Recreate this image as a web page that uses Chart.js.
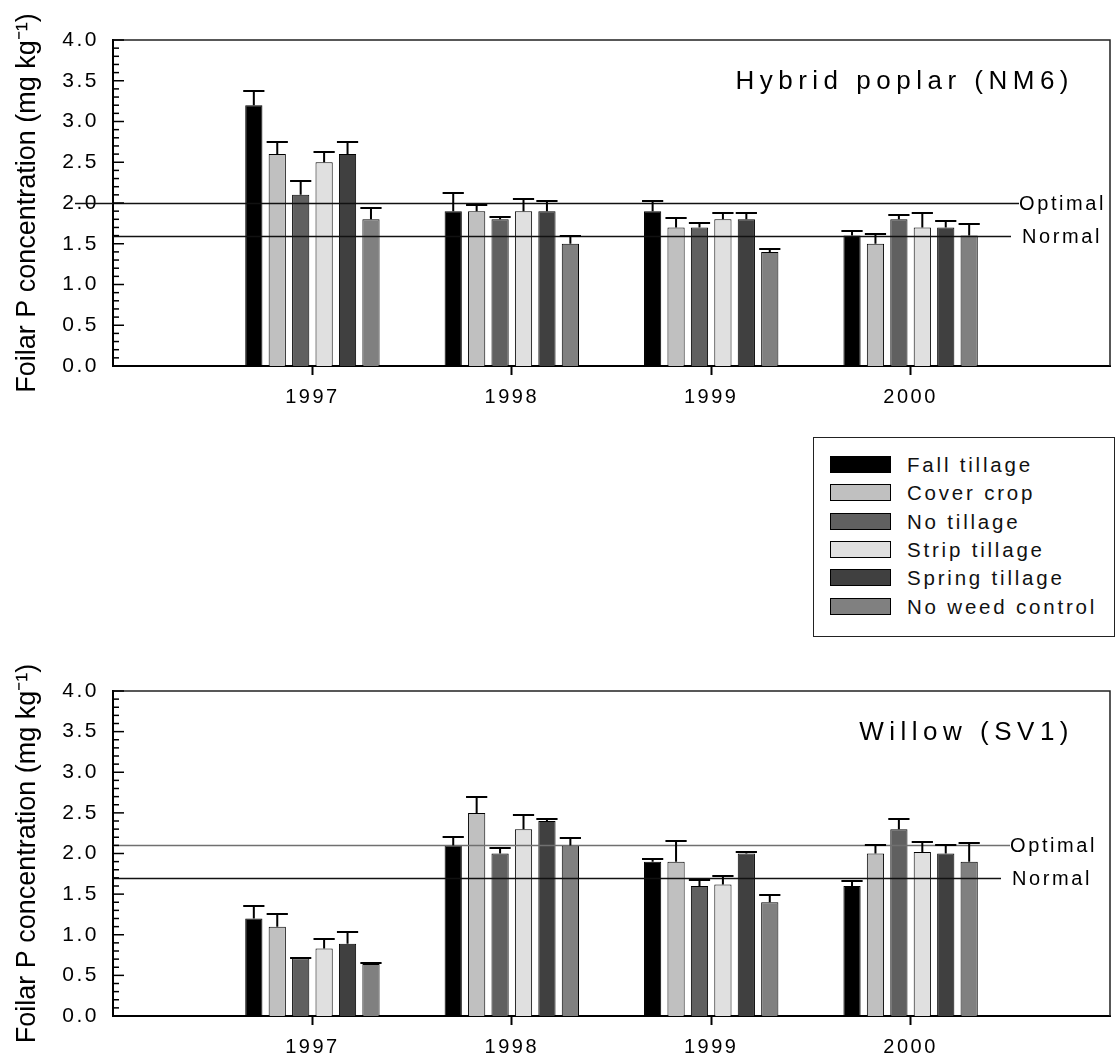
<!DOCTYPE html>
<html>
<head>
<meta charset="utf-8">
<title>Foliar P concentration</title>
<script src="https://cdn.jsdelivr.net/npm/chart.js@4.4.1/dist/chart.umd.min.js"></script>
<style>
  html, body { margin: 0; padding: 0; background: #fff; }
  #page { position: relative; width: 1120px; height: 1063px; overflow: hidden; }
  .panel { position: absolute; left: 0; }
  #legend {
    position: absolute; left: 813px; top: 437px; width: 300px; height: 198px;
    border: 1.5px solid #222; background: #fff;
    font-family: "Liberation Sans", Arial, sans-serif; font-size: 20.5px;
    letter-spacing: 2.8px; color: #111;
  }
  .item { position: absolute; left: 16px; height: 17px; display: flex; align-items: center; white-space: nowrap; }
  .sw { display: inline-block; width: 59px; height: 15px; border: 1px solid #000; margin-right: 16px; }
  .item span.txt { line-height: 17px; }
</style>
</head>
<body>
<div id="page">
  <canvas id="poplar" class="panel" style="top:0" width="1120" height="430"></canvas>
  <div id="legend"></div>
  <canvas id="willow" class="panel" style="top:650px" width="1120" height="413"></canvas>
</div>
<script>
// ---- data ----
const years = ['1997', '1998', '1999', '2000'];
const seriesNames = ['Fall tillage', 'Cover crop', 'No tillage', 'Strip tillage', 'Spring tillage', 'No weed control'];
const seriesColors = ['#000000', '#c0c0c0', '#606060', '#e0e0e0', '#404040', '#808080'];

// Hybrid poplar (NM6): means and standard errors per year
const poplarFall     = [3.2, 1.9, 1.9, 1.6];
const poplarCover    = [2.6, 1.9, 1.7, 1.5];
const poplarNoTill   = [2.1, 1.8, 1.7, 1.8];
const poplarStrip    = [2.5, 1.9, 1.8, 1.7];
const poplarSpring   = [2.6, 1.9, 1.8, 1.7];
const poplarNoWeed   = [1.8, 1.5, 1.4, 1.6];
const poplarFallSE   = [0.18, 0.22, 0.13, 0.06];
const poplarCoverSE  = [0.15, 0.08, 0.11, 0.12];
const poplarNoTillSE = [0.17, 0.03, 0.06, 0.05];
const poplarStripSE  = [0.12, 0.15, 0.08, 0.18];
const poplarSpringSE = [0.15, 0.12, 0.08, 0.08];
const poplarNoWeedSE = [0.14, 0.09, 0.04, 0.14];
const poplarOptimal = 2.0;
const poplarNormal  = 1.6;

// Willow (SV1): means and standard errors per year
const willowFall     = [1.2, 2.1, 1.9, 1.6];
const willowCover    = [1.1, 2.5, 1.9, 2.0];
const willowNoTill   = [0.71, 2.0, 1.6, 2.3];
const willowStrip    = [0.83, 2.3, 1.62, 2.02];
const willowSpring   = [0.89, 2.4, 2.0, 2.0];
const willowNoWeed   = [0.64, 2.1, 1.4, 1.9];
const willowFallSE   = [0.16, 0.10, 0.03, 0.06];
const willowCoverSE  = [0.15, 0.19, 0.26, 0.10];
const willowNoTillSE = [0.01, 0.07, 0.08, 0.12];
const willowStripSE  = [0.12, 0.17, 0.10, 0.12];
const willowSpringSE = [0.14, 0.03, 0.02, 0.10];
const willowNoWeedSE = [0.01, 0.09, 0.09, 0.23];
const willowOptimal = 2.1;
const willowNormal  = 1.7;

const yMin = 0, yMax = 4, yMinorStep = 0.1;
const yAxisTitle = 'Foilar P concentration (mg kg\u207B\u00B9)';
const optimalText = 'Optimal';
const normalText = 'Normal';

// ---- helpers ----
const FONT = '"Liberation Sans", Arial, Helvetica, sans-serif';
Chart.defaults.font.family = FONT;
Chart.defaults.color = '#000';

// one empty slot on each side of the years
const slotLabels = [''].concat(years, ['']);
const pad = arr => [null].concat(arr, [null]);
const isMajor = v => Math.abs(v * 2 - Math.round(v * 2)) < 1e-6;

function buildDatasets(means, errs) {
  return means.map((m, i) => ({
    label: seriesNames[i],
    data: pad(m),
    errors: pad(errs[i]),
    backgroundColor: seriesColors[i],
    borderColor: '#000',
    borderWidth: 1,
    categoryPercentage: 0.705,
    barPercentage: 0.735
  }));
}

// tick labels with the wide letter spacing of the original graph
const spacedLabels = {
  id: 'spacedLabels',
  beforeDraw(chart) {
    Object.values(chart.scales).forEach(s => {
      if (s._spacedWrap) return;
      const orig = s.drawLabels.bind(s);
      s.drawLabels = area => {
        chart.ctx.save();
        chart.ctx.letterSpacing = '2.5px';
        orig(area);
        chart.ctx.restore();
      };
      s._spacedWrap = true;
    });
  }
};

// reference lines, error bars, frame, inner ticks, panel title
const panelDecor = {
  id: 'panelDecor',
  afterDatasetsDraw(chart, args, opts) {
    const ctx = chart.ctx, y = chart.scales.y, a = chart.chartArea;
    ctx.save();
    // reference lines
    const lines = [
      { v: opts.optimal, text: optimalText, color: opts.optimalColor, x0: a.left - opts.optimalLeftExt, textX: opts.optimalX, gap: 0 },
      { v: opts.normal, text: normalText, color: '#111', x0: a.left, textX: opts.normalX, gap: 11 }
    ];
    lines.forEach(l => {
      const py = Math.round(y.getPixelForValue(l.v)) + 0.5;
      ctx.strokeStyle = l.color;
      ctx.lineWidth = 1.3;
      ctx.beginPath();
      ctx.moveTo(l.x0, py);
      ctx.lineTo(l.textX - l.gap, py);
      ctx.stroke();
      ctx.fillStyle = '#000';
      ctx.font = '20px ' + FONT;
      ctx.letterSpacing = '2.6px';
      ctx.textAlign = 'left';
      ctx.textBaseline = 'middle';
      ctx.fillText(l.text, l.textX, py + 1);
    });
    ctx.letterSpacing = '0px';
    // error bars (upper only)
    ctx.strokeStyle = '#000';
    ctx.lineWidth = 2;
    chart.data.datasets.forEach((ds, i) => {
      const meta = chart.getDatasetMeta(i);
      meta.data.forEach((bar, j) => {
        const v = ds.data[j], e = ds.errors[j];
        if (v == null || e == null) return;
        const top = Math.round(y.getPixelForValue(v + e));
        const half = bar.width / 2 + 2;
        ctx.beginPath();
        ctx.moveTo(bar.x, bar.y);
        ctx.lineTo(bar.x, top);
        ctx.moveTo(bar.x - half, top);
        ctx.lineTo(bar.x + half, top);
        ctx.stroke();
      });
    });
    ctx.restore();
  },
  afterDraw(chart, args, opts) {
    const ctx = chart.ctx, y = chart.scales.y, a = chart.chartArea;
    ctx.save();
    // top and right frame
    ctx.strokeStyle = '#222';
    ctx.lineWidth = 1.5;
    ctx.beginPath();
    ctx.moveTo(a.left, a.top);
    ctx.lineTo(a.right, a.top);
    ctx.lineTo(a.right, a.bottom);
    ctx.stroke();
    // inward ticks on the value axis
    ctx.strokeStyle = '#000';
    ctx.lineWidth = 1.5;
    y.ticks.forEach(t => {
      const py = y.getPixelForValue(t.value);
      const len = isMajor(t.value) ? 11 : 6;
      ctx.beginPath();
      ctx.moveTo(a.left, py);
      ctx.lineTo(a.left + len, py);
      ctx.stroke();
    });
    // panel title
    ctx.fillStyle = '#000';
    ctx.font = '26px ' + FONT;
    ctx.letterSpacing = '5.5px';
    ctx.textAlign = 'right';
    ctx.textBaseline = 'alphabetic';
    ctx.fillText(opts.title, a.right - 36, a.top + 49);
    ctx.restore();
  }
};

function makeChart(id, means, errs, decor, padTop, bottomGap) {
  const canvas = document.getElementById(id);
  return new Chart(canvas, {
    type: 'bar',
    data: { labels: slotLabels, datasets: buildDatasets(means, errs) },
    options: {
      responsive: false,
      animation: false,
      devicePixelRatio: 1,
      layout: { padding: { top: padTop, right: 5, left: 0, bottom: 0 } },
      plugins: {
        legend: { display: false },
        tooltip: { enabled: false },
        panelDecor: decor
      },
      scales: {
        x: {
          type: 'category',
          offset: false,
          grid: {
            offset: false,
            drawOnChartArea: false,
            drawTicks: true,
            tickLength: 9,
            tickWidth: 2,
            tickColor: c => (c.tick && c.tick.label ? '#000' : 'rgba(0,0,0,0)')
          },
          border: { display: true, width: 2, color: '#000' },
          ticks: { font: { size: 20 }, padding: 10, autoSkip: false, maxRotation: 0, color: '#000' },
          afterFit: s => { s.height = bottomGap; }
        },
        y: {
          min: yMin,
          max: yMax,
          grid: { display: false },
          border: { display: true, width: 2, color: '#000' },
          ticks: {
            stepSize: yMinorStep,
            autoSkip: false,
            font: { size: 21 },
            padding: 6,
            color: '#000',
            callback: v => (isMajor(v) ? Number(v).toFixed(1) : '')
          },
          title: {
            display: true,
            text: yAxisTitle,
            font: { size: 27 },
            color: '#000',
            padding: { top: 11, bottom: 0 }
          },
          afterFit: s => { s.width = 113; }
        }
      }
    },
    plugins: [spacedLabels, panelDecor]
  });
}

makeChart('poplar',
  [poplarFall, poplarCover, poplarNoTill, poplarStrip, poplarSpring, poplarNoWeed],
  [poplarFallSE, poplarCoverSE, poplarNoTillSE, poplarStripSE, poplarSpringSE, poplarNoWeedSE],
  { title: 'Hybrid poplar (NM6)', optimal: poplarOptimal, normal: poplarNormal,
    optimalColor: '#111', optimalLeftExt: 38, optimalX: 1019, normalX: 1022 },
  40, 64);

makeChart('willow',
  [willowFall, willowCover, willowNoTill, willowStrip, willowSpring, willowNoWeed],
  [willowFallSE, willowCoverSE, willowNoTillSE, willowStripSE, willowSpringSE, willowNoWeedSE],
  { title: 'Willow (SV1)', optimal: willowOptimal, normal: willowNormal,
    optimalColor: '#707070', optimalLeftExt: 0, optimalX: 1010, normalX: 1012 },
  41, 47);

// legend built from the series names and colours
const legendBox = document.getElementById('legend');
seriesNames.forEach((name, i) => {
  const row = document.createElement('div');
  row.className = 'item';
  row.style.top = (18 + i * 28.3) + 'px';
  const sw = document.createElement('span');
  sw.className = 'sw';
  sw.style.background = seriesColors[i];
  const txt = document.createElement('span');
  txt.className = 'txt';
  txt.textContent = name;
  row.appendChild(sw);
  row.appendChild(txt);
  legendBox.appendChild(row);
});
</script>
</body>
</html>
